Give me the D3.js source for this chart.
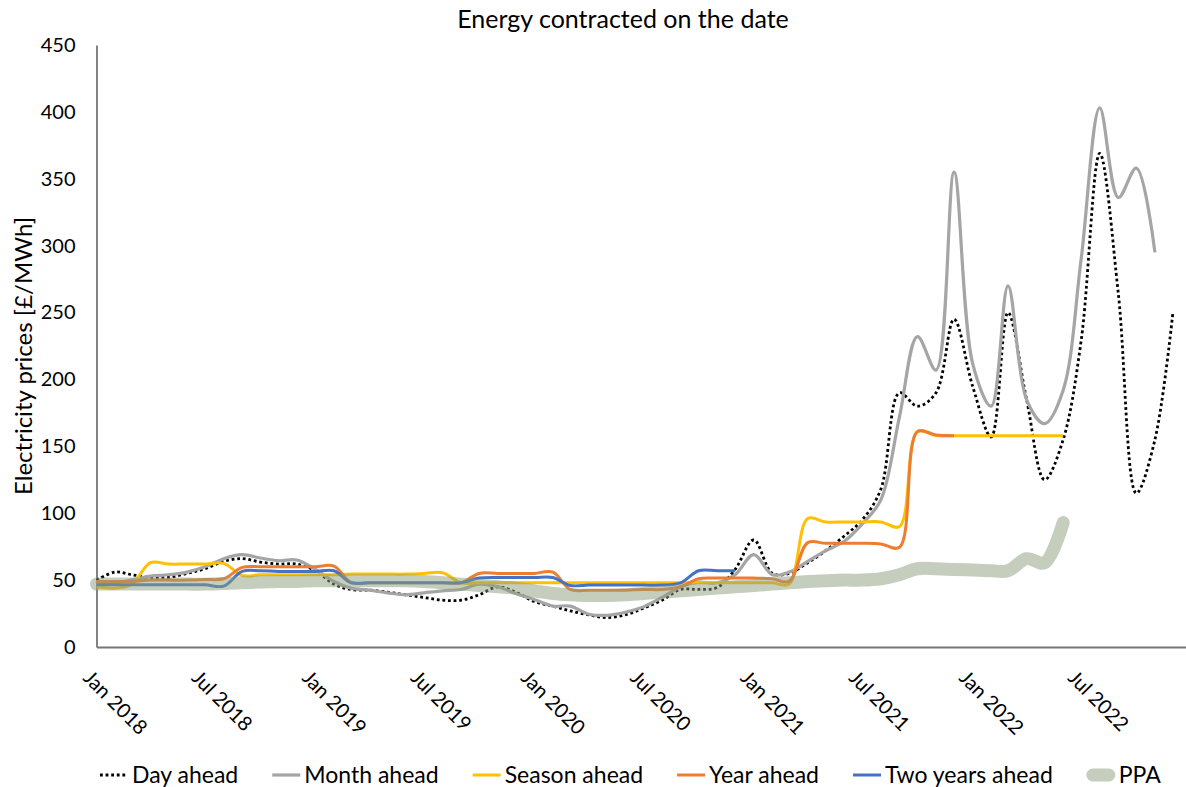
<!DOCTYPE html>
<html>
<head>
<meta charset="utf-8">
<script src="https://cdn.jsdelivr.net/npm/d3@7"></script>
<style>
  body { margin: 0; background: #fff; }
  text { font-family: Lato, "Open Sans", sans-serif; fill: #000; }
</style>
</head>
<body>
<div id="chart"></div>
<script>
// monthly categories, Jan 2018 .. Dec 2022
const months = d3.timeMonth.range(new Date(2018, 0, 1), new Date(2023, 0, 1));
const tickDates = [new Date(2018, 0, 1), new Date(2018, 6, 1), new Date(2019, 0, 1), new Date(2019, 6, 1),
  new Date(2020, 0, 1), new Date(2020, 6, 1), new Date(2021, 0, 1), new Date(2021, 6, 1),
  new Date(2022, 0, 1), new Date(2022, 6, 1)];
const yTicks = [0, 50, 100, 150, 200, 250, 300, 350, 400, 450];

// £/MWh, one value per month starting Jan 2018
const dayAhead = [50, 56, 54, 52, 52, 55, 58.5, 64, 66, 63.5,
  62, 62, 57, 47, 43, 42.5, 41, 39, 37, 35,
  35, 39, 45, 41, 34, 30.5, 27, 24, 22, 24,
  29, 35, 43, 43, 44.5, 58, 80, 55, 55, 63,
  72, 83, 95, 118, 190, 180, 190, 245, 195, 157,
  250, 185, 125, 155, 229, 369, 264, 115, 155, 250];
const monthAhead = [48, 48, 50, 53, 54, 56, 60, 66, 69, 66.5,
  64.5, 65, 58, 49, 44, 42.5, 40.5, 39, 40.5, 42,
  43, 47, 45, 40, 35.5, 30.6, 30.6, 24.5, 23.7, 26,
  30, 37, 45, 48.5, 48, 54, 69, 54, 56, 64,
  72, 79, 92, 110, 172, 232, 207, 355, 212, 180,
  270, 185, 167, 192, 290, 403, 336, 358, 295];
const seasonAhead = [45, 44, 47, 63, 62, 62, 62, 62.5, 53.5, 54,
  54, 54, 54, 54, 54.5, 54.5, 54.5, 54.5, 55, 55.5,
  48, 48, 48, 48, 48, 48, 48, 48, 48, 48,
  48, 48, 48, 48, 48, 48, 48, 48, 47, 96,
  93.5, 93.5, 93.5, 93.5, 90, 161, 158, 158, 158, 158,
  158, 158, 158, 158];
const yearAhead = [49, 49, 49, 50, 50, 50, 50.5, 51, 59.5, 60,
  60, 60, 60, 60.5, 48.5, 48, 48, 48, 48, 48,
  48, 55, 55, 55, 55, 56, 43, 42.5, 42.5, 42.5,
  43, 43, 45, 51, 51.5, 51.5, 51.5, 51, 49, 78,
  77.5, 77.5, 77.5, 77, 74.5, 161, 158.5, 158];
const twoYearsAhead = [46.5, 46.5, 46.5, 46.5, 46.5, 46.5, 46.5, 45.5, 56.5, 57,
  56.5, 56.5, 56.5, 57, 48, 48, 48, 48, 48, 48,
  48, 51.5, 52, 52, 52, 52, 46, 46.3, 46.3, 46.3,
  46.3, 46.3, 48, 57, 57, 57];
const ppa = [47, 47, 47, 47, 47, 47, 47, 47.5, 48, 48.5,
  49, 49, 49.5, 49.5, 49.5, 49.5, 49.5, 49.5, 49, 48,
  47, 46, 45, 44, 42, 40, 39, 38.5, 38.5, 39,
  40, 41, 42, 43, 44, 45, 46, 47, 48, 49,
  49.5, 50, 50, 51, 54, 58.5, 58.5, 58, 57.5, 57,
  57, 66, 63, 93];

const series = [
  {name: "Day ahead", values: dayAhead, color: "#000000", width: 2.8, dash: "2.8 2.8", opacity: 1},
  {name: "Month ahead", values: monthAhead, color: "#a5a5a5", width: 3.2, dash: null, opacity: 1},
  {name: "Season ahead", values: seasonAhead, color: "#ffc000", width: 3, dash: null, opacity: 1},
  {name: "Year ahead", values: yearAhead, color: "#ed7d31", width: 3, dash: null, opacity: 1},
  {name: "Two years ahead", values: twoYearsAhead, color: "#4472c4", width: 3, dash: null, opacity: 1},
  {name: "PPA", values: ppa, color: "#8c9e7c", width: 13, dash: null, opacity: 0.5}
];

const width = 1186, height = 787;

let svg = d3.select("#chart").append("svg")
  .attr("width", width)
  .attr("height", height);

svg.append("rect")
  .attr("width", width)
  .attr("height", height)
  .attr("fill", "#fff");

let x = d3.scaleTime()
  .domain([new Date(2018, 0, 1), new Date(2023, 0, 1)])
  .range([96.5, 1191.5]);

let y = d3.scaleLinear()
  .domain([0, 450])
  .range([647, 45]);

// title
svg.append("text")
  .attr("x", 623)
  .attr("y", 28)
  .attr("text-anchor", "middle")
  .style("font-size", "25px")
  .text("Energy contracted on the date");

// y axis
let yAxis = svg.append("g")
  .attr("transform", "translate(96.5,0)")
  .call(d3.axisLeft(y).tickValues(yTicks).tickSize(0).tickPadding(21));
yAxis.select(".domain").attr("stroke", "#404040").attr("stroke-width", 1.3);
yAxis.selectAll("text").style("font-size", "20px").style("font-family", "Lato, 'Open Sans', sans-serif");

svg.append("text")
  .attr("transform", "translate(32,356) rotate(-90)")
  .attr("text-anchor", "middle")
  .style("font-size", "24px")
  .text("Electricity prices [£/MWh]");

// x axis
let xAxis = svg.append("g")
  .attr("transform", "translate(0,647)")
  .call(d3.axisBottom(x).tickValues(tickDates).tickSize(0).tickFormat(d3.timeFormat("%b %Y")));
xAxis.select(".domain").attr("stroke", "#767676").attr("stroke-width", 2);
xAxis.selectAll("text")
  .attr("y", 0)
  .attr("dy", 0)
  .attr("text-anchor", "start")
  .attr("transform", "translate(-15,32) rotate(45)")
  .style("font-size", "20px")
  .style("font-family", "Lato, 'Open Sans', sans-serif");

// lines
let line = d3.line()
  .x((d, i) => x(months[i]))
  .y(d => y(d))
  .curve(d3.curveCatmullRom.alpha(0.5));

series.forEach(s => {
  svg.append("path")
    .datum(s.values)
    .attr("d", line)
    .attr("fill", "none")
    .attr("stroke", s.color)
    .attr("stroke-width", s.width)
    .attr("stroke-dasharray", s.dash)
    .attr("stroke-linecap", s.name == "PPA" ? "round" : "butt")
    .attr("stroke-linejoin", "round")
    .attr("opacity", s.opacity);
});

// legend
let legend = svg.append("g").attr("transform", "translate(100,775)");
let lx = 0;
series.forEach(s => {
  let g = legend.append("g").attr("transform", `translate(${lx},0)`);
  g.append("line")
    .attr("x1", s.name == "PPA" ? 6 : 0)
    .attr("x2", s.name == "PPA" ? 22 : 28)
    .attr("y1", 0).attr("y2", 0)
    .attr("stroke", s.color)
    .attr("stroke-width", s.name == "PPA" ? 13 : s.width)
    .attr("stroke-dasharray", s.dash)
    .attr("stroke-linecap", s.name == "PPA" ? "round" : "butt")
    .attr("opacity", s.opacity);
  let t = g.append("text")
    .attr("x", 32)
    .attr("dy", "0.35em")
    .style("font-size", "23px")
    .text(s.name);
  lx += 32 + t.node().getComputedTextLength() + 34;
});
</script>
</body>
</html>
